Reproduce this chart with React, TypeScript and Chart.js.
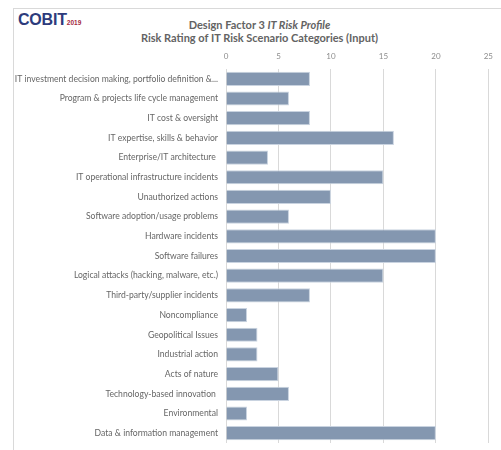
import React, { useEffect, useRef } from "react";
import { Chart, registerables } from "chart.js";

Chart.register(...registerables);

const categories: string[] = [
  "IT investment decision making, portfolio definition &...",
  "Program & projects life cycle management",
  "IT cost & oversight",
  "IT expertise, skills & behavior",
  "Enterprise/IT architecture ",
  "IT operational infrastructure incidents",
  "Unauthorized actions",
  "Software adoption/usage problems",
  "Hardware incidents",
  "Software failures",
  "Logical attacks (hacking, malware, etc.)",
  "Third-party/supplier incidents",
  "Noncompliance",
  "Geopolitical Issues",
  "Industrial action",
  "Acts of nature",
  "Technology-based innovation ",
  "Environmental",
  "Data & information management",
];

const riskRatings: number[] = [8, 6, 8, 16, 4, 15, 10, 6, 20, 20, 15, 8, 2, 3, 3, 5, 6, 2, 20];

const titleLine1 = "Design Factor 3 ";
const titleLine1Italic = "IT Risk Profile";
const titleLine2 = "Risk Rating of IT Risk Scenario Categories (Input)";

export default function App() {
  const canvasRef = useRef<HTMLCanvasElement | null>(null);

  useEffect(() => {
    document.body.style.margin = "0";
    document.body.style.overflow = "hidden";
    const ctx = canvasRef.current!;
    const chart = new Chart(ctx, {
      type: "bar",
      data: {
        labels: categories,
        datasets: [
          {
            data: riskRatings,
            backgroundColor: "#8497b0",
            borderColor: "#c9d3e0",
            borderWidth: 1,
            categoryPercentage: 1,
            barPercentage: 0.72,
          },
        ],
      },
      options: {
        indexAxis: "y",
        animation: false,
        responsive: false,
        maintainAspectRatio: false,
        layout: { padding: { left: 0, right: 10, top: 50, bottom: 7 } },
        plugins: {
          legend: { display: false },
          tooltip: { enabled: false },
          title: { display: false },
        },
        scales: {
          x: {
            position: "top",
            min: 0,
            max: 25,
            ticks: {
              stepSize: 5,
              color: "#8c8c8c",
              font: { family: "Lato", size: 8 },
              padding: 8,
            },
            grid: { color: "#d9d9d9", drawTicks: false, lineWidth: 1 },
            border: { display: false },
            afterFit: (scale: any) => {
              scale.height = 19;
            },
          },
          y: {
            ticks: {
              color: "#666666",
              font: { family: "Lato", size: 8.6 },
              padding: 8,
              autoSkip: false,
            },
            grid: { display: false, drawTicks: false },
            border: { display: false },
            afterFit: (scale: any) => {
              scale.width = 226;
              scale.paddingTop = 0;
              scale.paddingBottom = 0;
            },
          },
        },
      },
    });
    return () => chart.destroy();
  }, []);

  return (
    <div
      style={{
        position: "fixed",
        left: 0,
        top: 0,
        width: 501,
        height: 450,
        overflow: "hidden",
        background: "#ffffff",
      }}
    >
      <div
        style={{
          position: "absolute",
          left: 13,
          top: 8,
          width: 520,
          height: 470,
          border: "1px solid #d9d9d9",
        }}
      />
      <div
        style={{
          position: "absolute",
          left: 18,
          top: 11,
          fontFamily: "'Liberation Sans Narrow', 'Liberation Sans', sans-serif",
          fontWeight: 700,
          whiteSpace: "nowrap",
          lineHeight: "17px",
        }}
      >
        <span style={{ color: "#2d3b7c", fontSize: 16, letterSpacing: -0.2 }}>COBIT</span>
        <span style={{ color: "#a3283e", fontSize: 6.5 }}>2019</span>
      </div>
      <div
        style={{
          position: "absolute",
          left: 0,
          top: 18,
          width: 519,
          textAlign: "center",
          fontFamily: "Lato, sans-serif",
          fontWeight: 700,
          fontSize: 11,
          lineHeight: "13px",
          color: "#636363",
          whiteSpace: "nowrap",
        }}
      >
        <div>
          {titleLine1}
          <i>{titleLine1Italic}</i>
        </div>
        <div>{titleLine2}</div>
      </div>
      <canvas
        ref={canvasRef}
        width={501}
        height={450}
        style={{ position: "absolute", left: 0, top: 0, width: 501, height: 450 }}
      />
    </div>
  );
}
